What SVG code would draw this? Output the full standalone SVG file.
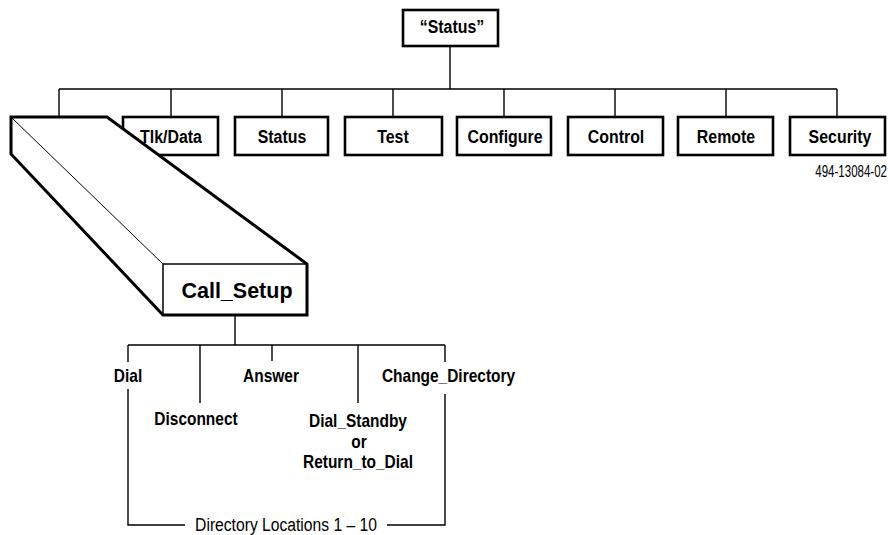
<svg xmlns="http://www.w3.org/2000/svg" width="888" height="535" viewBox="0 0 888 535">
  <style>
    .box { fill: #fff; stroke: #000; stroke-width: 2.6; }
    .wire { fill: none; stroke: #000; stroke-width: 1.4; }
    text { font-family: "Liberation Sans", Arial, Helvetica, sans-serif; fill: #000; text-anchor: middle; }
    .lbl { font-weight: bold; font-size: 18.5px; }
    .sub { font-weight: bold; font-size: 18px; }
    .note { font-size: 18px; }
  </style>
  <rect width="888" height="535" fill="#fff"/>

  <!-- connectors -->
  <g id="connectors">
    <path class="wire" d="M450 46 V89 M59 89 H837 M59 89 V117 M171 89 V117 M282 89 V117 M393 89 V117 M504 89 V117 M615 89 V117 M726 89 V117 M837 89 V117"/>
    <path class="wire" d="M235 315 V345 M128 345 H445 M128 345 V362 M200 345 V403 M272 345 V361 M358 345 V403 M445 345 V362"/>
    <path class="wire" d="M128 389 V525 H185 M387 525 H445 V394"/>
  </g>

  <!-- labels use a narrow face: regular glyphs squeezed horizontally -->
  <g id="root">
    <rect class="box" x="403" y="10" width="95" height="36"/>
    <text class="lbl" transform="translate(452 33) scale(0.86 1)">“Status”</text>
  </g>

  <g id="tlk-data">
    <rect class="box" x="123" y="117" width="95" height="38"/>
    <text class="lbl" transform="translate(171 143) scale(0.86 1)">Tlk/Data</text>
  </g>
  <g id="status">
    <rect class="box" x="235" y="117" width="93" height="38"/>
    <text class="lbl" transform="translate(282 143) scale(0.86 1)">Status</text>
  </g>
  <g id="test">
    <rect class="box" x="345" y="117" width="97" height="38"/>
    <text class="lbl" transform="translate(393 143) scale(0.86 1)">Test</text>
  </g>
  <g id="configure">
    <rect class="box" x="457" y="117" width="94" height="38"/>
    <text class="lbl" transform="translate(505 143) scale(0.86 1)">Configure</text>
  </g>
  <g id="control">
    <rect class="box" x="568" y="117" width="95" height="38"/>
    <text class="lbl" transform="translate(616 143) scale(0.86 1)">Control</text>
  </g>
  <g id="remote">
    <rect class="box" x="678" y="117" width="95" height="38"/>
    <text class="lbl" transform="translate(726 143) scale(0.86 1)">Remote</text>
  </g>
  <g id="security">
    <rect class="box" x="790" y="117" width="95" height="38"/>
    <text class="lbl" transform="translate(840 143) scale(0.86 1)">Security</text>
  </g>

  <text style="font-size:16px; text-anchor:end" transform="translate(887 177) scale(0.72 1)">494-13084-02</text>

  <!-- Call_Setup drawn as an extruded block -->
  <g id="call-setup">
    <polygon points="11,117 107,117 307,264 307,315 163,315 11,154" fill="#fff" stroke="#000" stroke-width="3" stroke-linejoin="miter"/>
    <line x1="12" y1="118" x2="163" y2="264" stroke="#000" stroke-width="1"/>
    <path d="M163 315 V264 H307" fill="none" stroke="#000" stroke-width="1.5"/>
    <text style="font-weight:bold; font-size:21.5px" x="237" y="298">Call_Setup</text>
  </g>

  <g id="dial"><text class="sub" transform="translate(128 381.5) scale(0.86 1)">Dial</text></g>
  <g id="disconnect"><text class="sub" transform="translate(196 425) scale(0.86 1)">Disconnect</text></g>
  <g id="answer"><text class="sub" transform="translate(271 381.5) scale(0.86 1)">Answer</text></g>
  <g id="dial-standby">
    <text class="sub" transform="translate(358 427) scale(0.86 1)">Dial_Standby</text>
    <text class="sub" transform="translate(359 448) scale(0.86 1)">or</text>
    <text class="sub" transform="translate(358 468) scale(0.86 1)">Return_to_Dial</text>
  </g>
  <g id="change-directory"><text class="sub" transform="translate(448.5 381.5) scale(0.86 1)">Change_Directory</text></g>

  <text class="note" transform="translate(286 531) scale(0.87 1)">Directory Locations 1 – 10</text>
</svg>
